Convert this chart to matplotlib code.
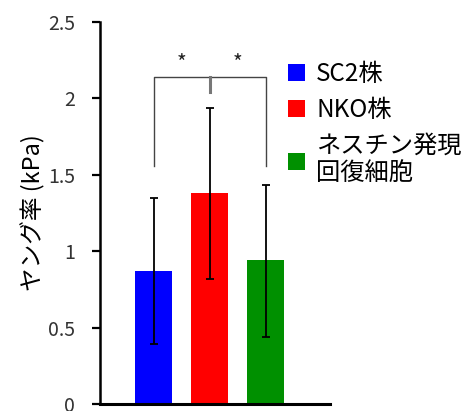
import matplotlib as mpl

mpl.use('agg')
import matplotlib.pyplot as plt
from matplotlib.patches import Patch

plt.rcParams['font.family'] = ['Noto Sans CJK JP', 'DejaVu Sans']

groups = ['SC2株', 'NKO株', 'ネスチン発現\n回復細胞']
means = [0.87, 1.38, 0.94]
err_low = [0.48, 0.56, 0.50]
err_high = [0.48, 0.56, 0.49]
colors = ['#0000ff', '#ff0000', '#009000']
yticks = [0, 0.5, 1, 1.5, 2, 2.5]
ytick_labels = ['0', '0.5', '1', '1.5', '2', '2.5']

fig = plt.figure(figsize=(4.64, 4.11), dpi=100)
ax = fig.add_axes([0.2155, 0.017, 0.4957, 0.9295])

xs = list(range(len(groups)))
ax.bar(xs, means, width=0.66, color=colors, zorder=2)
ax.errorbar(xs, means, yerr=[err_low, err_high], fmt='none', ecolor='black',
            elinewidth=1.3, capsize=3, capthick=1.3, zorder=3)

# significance bracket
yb, ylow = 2.14, 1.56
ax.plot([0, 0, 2, 2], [ylow, yb, yb, ylow], color='#444444', lw=1.0, zorder=1)
ax.plot([1, 1], [yb, 2.04], color='#777777', lw=2.2, zorder=1)
for xp in (0.5, 1.5):
  ax.text(xp, 2.225, '*', ha='center', va='center', fontsize=15, color='#222222')

ax.set_xlim(-0.96, 3.15)
ax.set_ylim(0, 2.5)
ax.set_yticks(yticks)
ax.set_yticklabels(ytick_labels, fontsize=14, color='#333333')
ax.set_xticks([])
ax.tick_params(axis='y', length=6, width=1.6, direction='out', pad=12)
for s in ('top', 'right'):
  ax.spines[s].set_visible(False)
ax.spines['left'].set_linewidth(1.8)
ax.spines['bottom'].set_linewidth(2.2)
ax.set_ylabel('ヤング率 (kPa)', fontsize=17, labelpad=2)

handles = [Patch(facecolor=c) for c in colors]
leg = ax.legend(handles, groups, loc='upper left', bbox_to_anchor=(0.765, 0.93),
                frameon=False, fontsize=17.5, handlelength=0.7, handleheight=0.7,
                handletextpad=0.45, labelspacing=0.4, borderpad=0)
for t in leg.get_texts():
  t.set_linespacing(1.15)

fig.savefig('out.png', dpi=100)
